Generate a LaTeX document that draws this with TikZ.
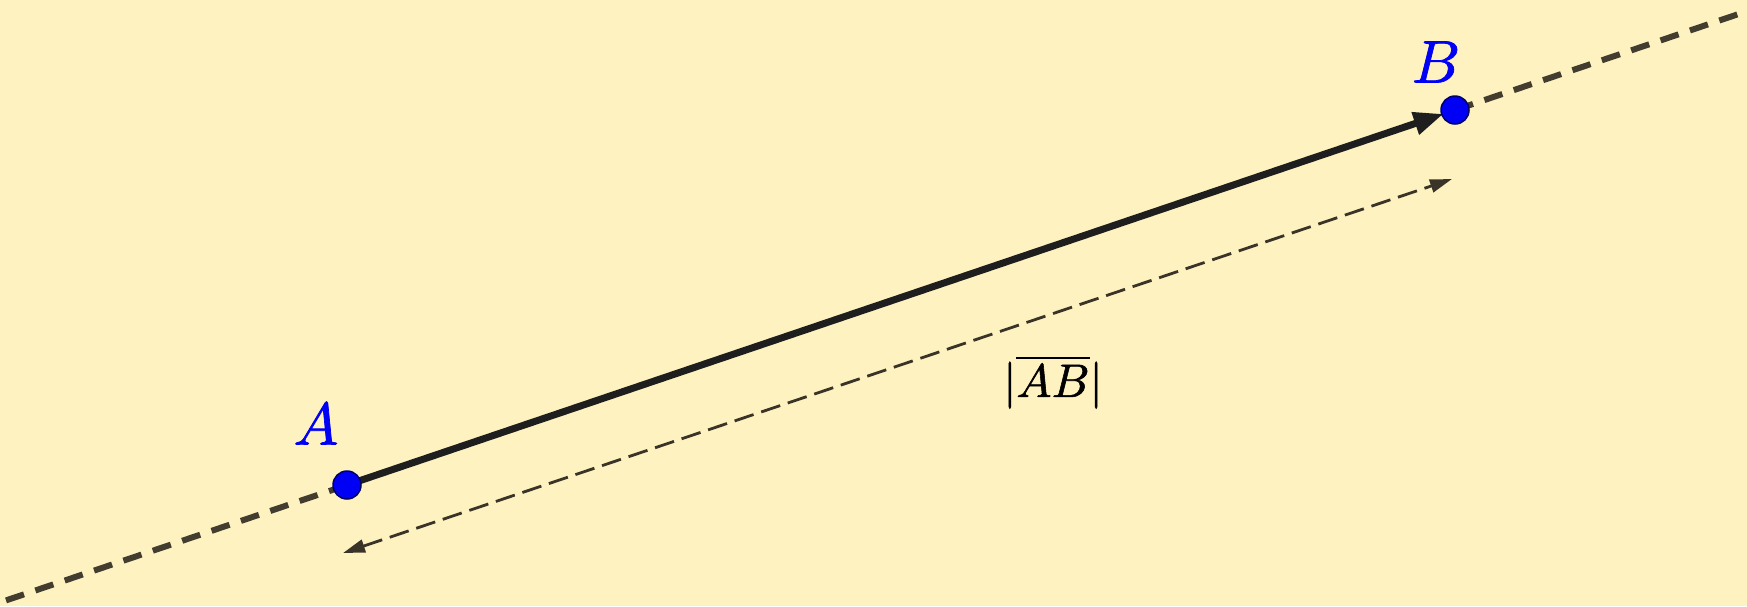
\documentclass[tikz,border=0pt]{standalone}
\usetikzlibrary{arrows.meta,calc}
\definecolor{bg}{HTML}{FEF2C0}
\definecolor{extc}{HTML}{433D2F}
\definecolor{vecc}{HTML}{1E1E1E}
\definecolor{dimc}{HTML}{3A3428}
\definecolor{ptblue}{HTML}{0000F5}
\newcommand{\heavytext}[1]{\special{pdf:literal direct 2 Tr 0.12 w}#1\special{pdf:literal direct 0 Tr}}
\tikzset{
  ext/.style={draw=extc, line width=6pt, dash pattern=on 19pt off 12pt},
  vec/.style={draw=vecc, line width=7pt, -{Triangle[length=30pt,width=22pt]}, shorten >=12pt},
  dim/.style={draw=dimc, line width=2.8pt, dash pattern=on 20pt off 8pt, {Triangle[length=22pt,width=13pt]}-{Triangle[length=22pt,width=13pt]}},
  pt/.style={circle, fill=ptblue, draw=black!60!blue, line width=1.5pt, minimum size=28pt, inner sep=0pt},
  plabel/.style={text=ptblue, inner sep=0pt},
  dlabel/.style={text=black, inner sep=0pt},
}
\begin{document}
\begin{tikzpicture}[x=1pt,y=-1pt]
\fill[bg] (0,0) rectangle (1747,606);
\useasboundingbox (0,0) rectangle (1747,606);
\clip (0,0) rectangle (1747,606);
\coordinate (A0) at (347,485);
\coordinate (B0) at (1455,110);
\coordinate (L) at ($(A0)!-0.31!(B0)$);
\coordinate (R) at ($(B0)!-0.26!(A0)$);
\coordinate (P1) at (343,553);
\coordinate (P2) at (1452,179);
\draw[ext] (A0) -- (L);
\draw[ext] (B0) -- (R);
\draw[vec] (A0) -- (B0);
\draw[dim] (P1) -- (P2);
\node[pt] (A) at (A0) {};
\node[pt] (B) at (B0) {};
\node[plabel] (la) at (316,424) {\scalebox{6}{\heavytext{$A$}}};
\node[plabel] (lb) at (1436,62) {\scalebox{6}{\heavytext{$B$}}};
\node[dlabel] (lab) at (1053,382) {\scalebox{4.7}{\heavytext{$|\overline{AB}|$}}};
\end{tikzpicture}
\end{document}
